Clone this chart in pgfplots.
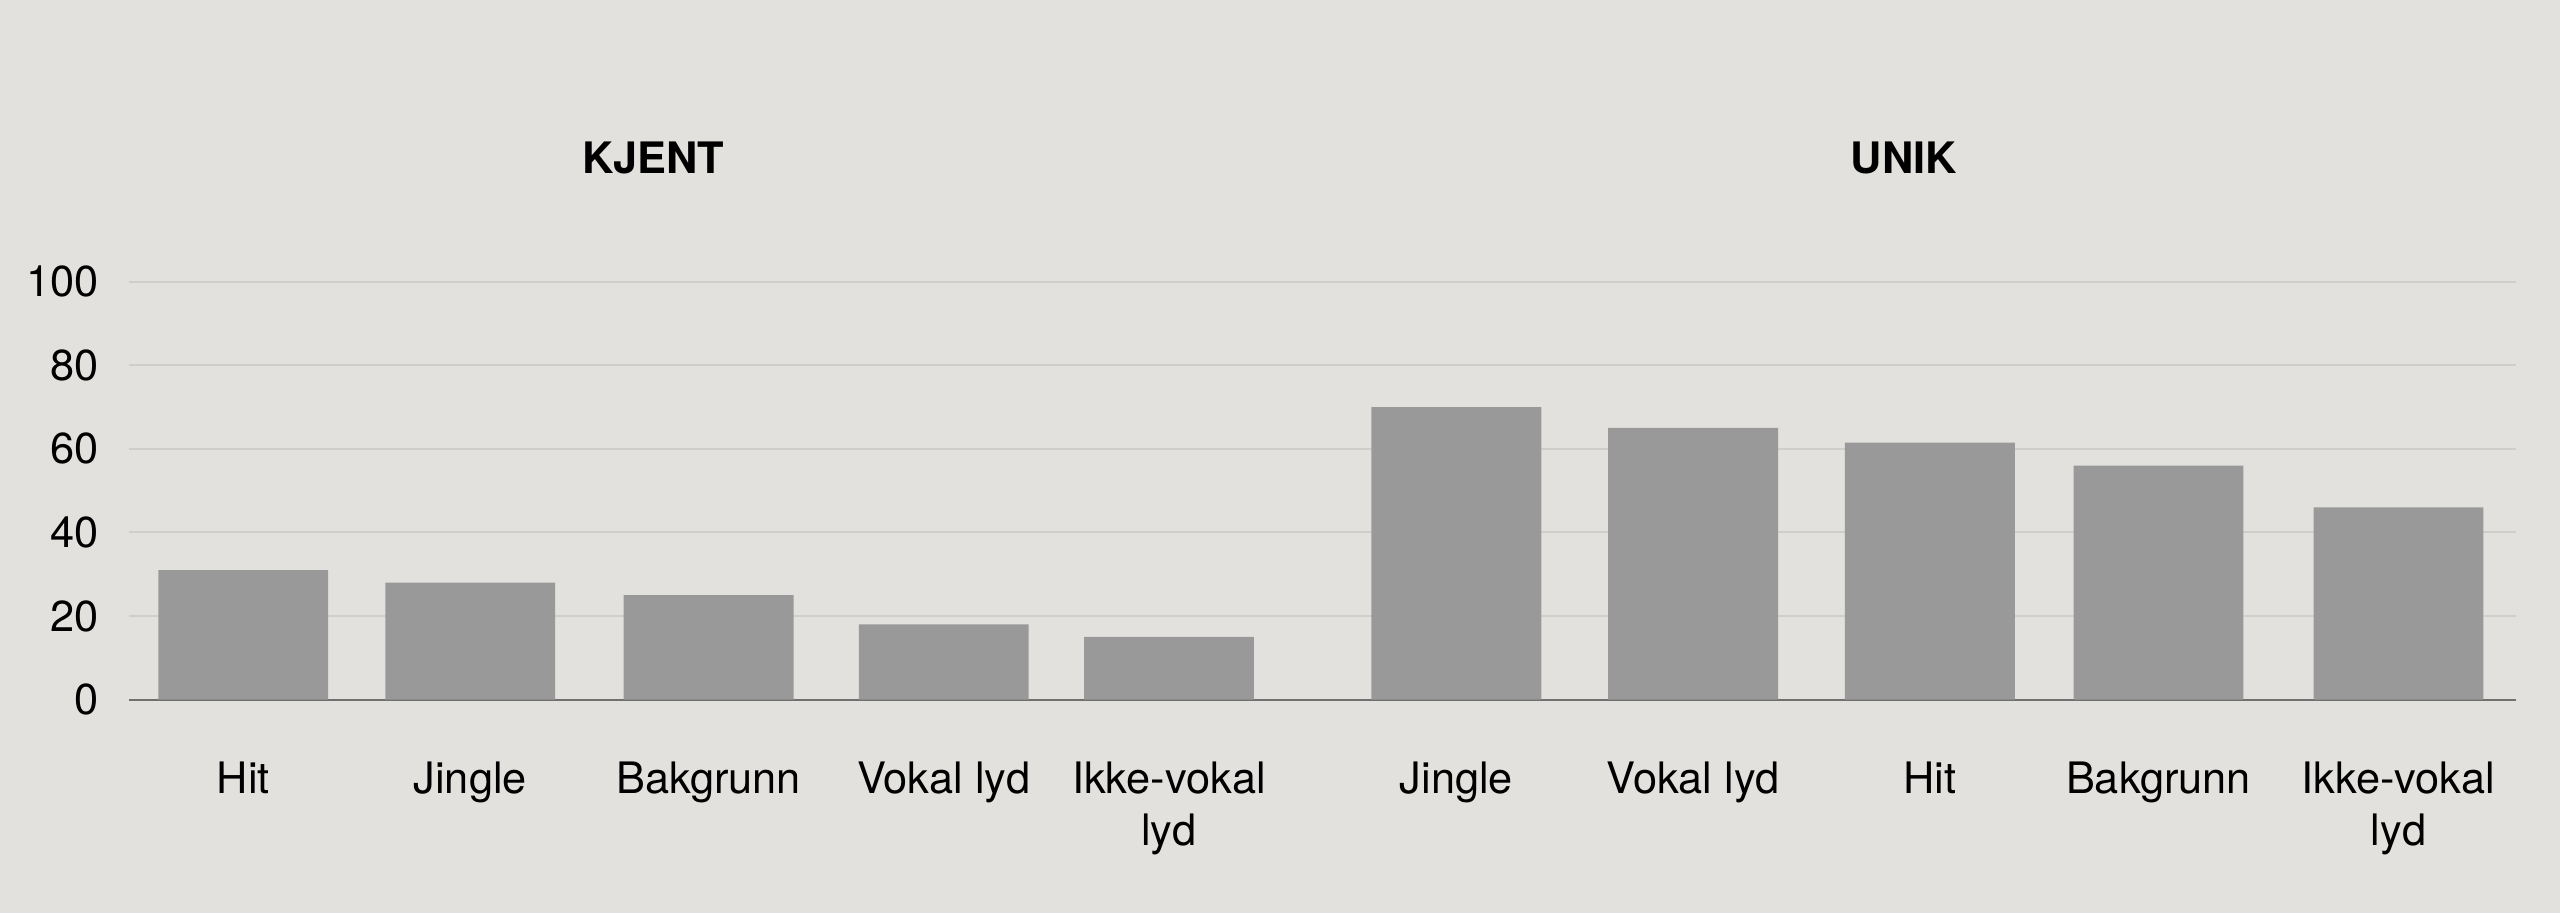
\documentclass[border=0pt]{standalone}
\usepackage{fontspec}
\setmainfont{TeX Gyre Heros}
\usepackage{pgfplots}
\usepackage{pgfplotstable}
\pgfplotsset{compat=1.18}
\definecolor{bgc}{HTML}{E2E1DD}
\definecolor{barc}{HTML}{999999}
\definecolor{gridc}{HTML}{CFCECA}
\definecolor{basec}{HTML}{707070}
\pgfplotstableread{
x y
149 31
288 28
434 25
578 18
716 15
}\kjent
\pgfplotstableread{
x y
892 70
1037 65
1182 61.5
1322 56
1469 46
}\unik
\begin{document}
\begin{tikzpicture}
\fill[bgc] (0,0) rectangle (768pt,273.9pt);
\useasboundingbox (0,0) rectangle (768pt,273.9pt);
\begin{axis}[
  at={(38.7pt,64.0pt)}, anchor=south west,
  scale only axis, width=716.1pt, height=125.4pt,
  xmin=79, xmax=1541, ymin=0, ymax=100,
  axis x line*=bottom, axis y line*=left, axis line style={draw=none},
  major tick length=0pt,
  ytick={20,40,60,80,100}, yticklabels={20,40,60,80,100},
  extra y ticks={0}, extra y tick labels={0},
  extra y tick style={ymajorgrids=true, grid style={color=basec, line width=0.6pt}},
  ymajorgrids, grid style={color=gridc, line width=0.6pt},
  xtick={149,288,434,578,716,892,1037,1182,1322,1469},
  xticklabels={Hit,Jingle,Bakgrunn,Vokal lyd,{Ikke-vokal\\lyd},Jingle,Vokal lyd,Hit,Bakgrunn,{Ikke-vokal\\lyd}},
  xticklabel style={align=center, yshift=-15pt, font=\fontsize{13}{15.6}\selectfont},
  yticklabel style={xshift=-5.6pt, font=\fontsize{13}{15.6}\selectfont},
  ybar, bar width=104,
  clip=false,
]
\addplot[fill=barc, draw=none, bar shift=0pt] table[x=x,y=y] {\kjent};
\addplot[fill=barc, draw=none, bar shift=0pt] table[x=x,y=y] {\unik};
\node[font=\bfseries\fontsize{13}{15.6}\selectfont] at (axis cs:400,100) [yshift=37.2pt] {KJENT};
\node[font=\bfseries\fontsize{13}{15.6}\selectfont] at (axis cs:1166,100) [yshift=37.2pt] {UNIK};
\end{axis}
\end{tikzpicture}
\end{document}
